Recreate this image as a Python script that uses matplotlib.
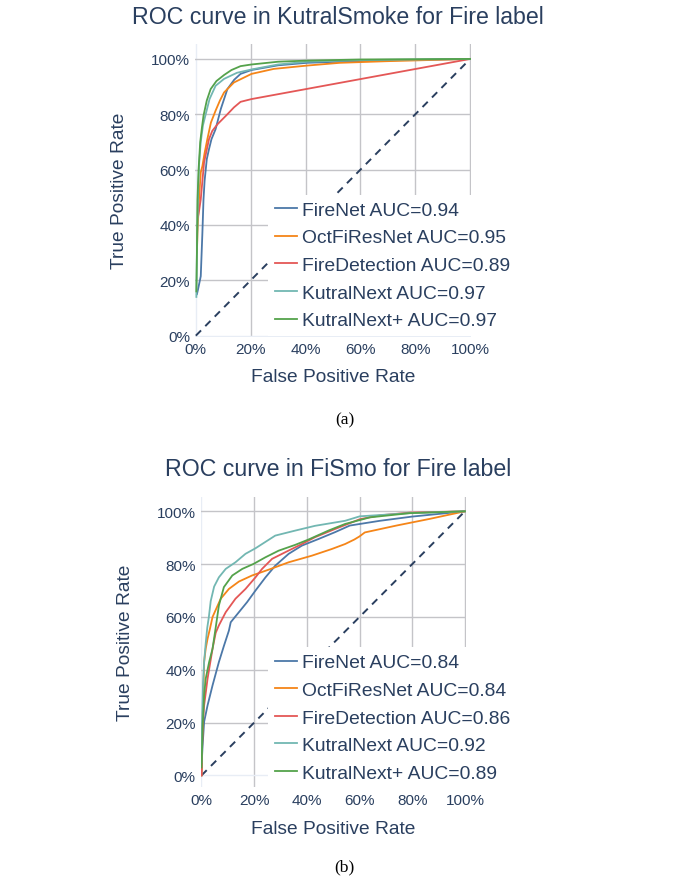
import matplotlib
matplotlib.use("Agg")
import matplotlib.pyplot as plt
from matplotlib.lines import Line2D

plt.rcParams['font.family'] = ['Liberation Sans', 'DejaVu Sans']

# ---- data: KutralSmoke (a) ----
ks_firenet_fpr = [0.004, 0.008, 0.018, 0.024, 0.028, 0.032, 0.040, 0.048, 0.057, 0.072, 0.091, 0.115, 0.140, 0.163, 0.203, 0.300, 0.405, 0.525, 0.700, 1.0]
ks_firenet_tpr = [0.15, 0.167, 0.215, 0.373, 0.493, 0.56, 0.638, 0.674, 0.71, 0.746, 0.819, 0.891, 0.925, 0.946, 0.96, 0.977, 0.986, 0.99, 0.995, 1.0]

ks_octfi_fpr = [0.004, 0.006, 0.012, 0.018, 0.024, 0.032, 0.042, 0.055, 0.072, 0.088, 0.103, 0.139, 0.203, 0.284, 0.405, 0.525, 0.700, 0.850, 1.0]
ks_octfi_tpr = [0.30, 0.372, 0.50, 0.59, 0.613, 0.66, 0.71, 0.77, 0.813, 0.85, 0.879, 0.915, 0.946, 0.964, 0.976, 0.986, 0.992, 0.996, 1.0]

ks_firedet_fpr = [0.008, 0.012, 0.018, 0.030, 0.048, 0.060, 0.079, 0.095, 0.115, 0.139, 0.163, 0.203, 1.0]
ks_firedet_tpr = [0.43, 0.452, 0.493, 0.626, 0.71, 0.74, 0.764, 0.78, 0.80, 0.825, 0.845, 0.855, 1.0]

ks_kutral_fpr = [0.002, 0.004, 0.008, 0.012, 0.018, 0.026, 0.036, 0.050, 0.072, 0.103, 0.150, 0.203, 0.300, 0.405, 0.600, 1.0]
ks_kutral_tpr = [0.14, 0.30, 0.50, 0.62, 0.70, 0.76, 0.80, 0.855, 0.903, 0.928, 0.95, 0.962, 0.98, 0.99, 0.996, 1.0]

ks_kutralp_fpr = [0.002, 0.004, 0.006, 0.010, 0.016, 0.022, 0.028, 0.040, 0.054, 0.075, 0.103, 0.130, 0.163, 0.203, 0.300, 0.405, 0.600, 1.0]
ks_kutralp_tpr = [0.16, 0.30, 0.49, 0.60, 0.70, 0.75, 0.795, 0.85, 0.891, 0.92, 0.942, 0.96, 0.974, 0.98, 0.99, 0.994, 0.998, 1.0]

# ---- data: FiSmo (b) ----
fs_firenet_fpr = [0.0, 0.001, 0.004, 0.010, 0.023, 0.042, 0.066, 0.085, 0.104, 0.111, 0.142, 0.173, 0.205, 0.243, 0.280, 0.331, 0.381, 0.444, 0.507, 0.563, 0.677, 0.800, 1.0]
fs_firenet_tpr = [0.0, 0.05, 0.11, 0.203, 0.265, 0.341, 0.429, 0.49, 0.548, 0.58, 0.618, 0.656, 0.70, 0.75, 0.794, 0.839, 0.87, 0.895, 0.921, 0.946, 0.964, 0.98, 1.0]

fs_octfi_fpr = [0.0, 0.002, 0.004, 0.010, 0.016, 0.023, 0.032, 0.042, 0.073, 0.104, 0.142, 0.192, 0.255, 0.331, 0.419, 0.494, 0.545, 0.580, 0.600, 0.620, 0.740, 0.865, 1.0]
fs_octfi_tpr = [0.0, 0.10, 0.20, 0.43, 0.48, 0.517, 0.555, 0.60, 0.669, 0.706, 0.734, 0.757, 0.779, 0.807, 0.832, 0.857, 0.876, 0.893, 0.905, 0.92, 0.946, 0.971, 1.0]

fs_firedet_fpr = [0.0, 0.001, 0.004, 0.010, 0.023, 0.042, 0.054, 0.066, 0.092, 0.129, 0.167, 0.205, 0.230, 0.268, 0.318, 0.381, 0.431, 0.507, 0.545, 0.601, 0.680, 0.790, 1.0]
fs_firedet_tpr = [0.0, 0.04, 0.177, 0.265, 0.366, 0.48, 0.54, 0.568, 0.618, 0.669, 0.706, 0.75, 0.782, 0.82, 0.845, 0.876, 0.902, 0.933, 0.948, 0.97, 0.985, 0.995, 1.0]

fs_kutral_fpr = [0.0, 0.002, 0.006, 0.010, 0.016, 0.022, 0.028, 0.035, 0.048, 0.066, 0.092, 0.129, 0.167, 0.205, 0.280, 0.356, 0.431, 0.545, 0.601, 0.790, 1.0]
fs_kutral_tpr = [0.05, 0.20, 0.35, 0.43, 0.50, 0.56, 0.60, 0.66, 0.715, 0.75, 0.782, 0.807, 0.839, 0.86, 0.908, 0.927, 0.945, 0.964, 0.981, 0.993, 1.0]

fs_kutralp_fpr = [0.0, 0.001, 0.004, 0.010, 0.016, 0.029, 0.042, 0.054, 0.066, 0.085, 0.117, 0.155, 0.198, 0.243, 0.293, 0.356, 0.406, 0.482, 0.545, 0.639, 0.790, 1.0]
fs_kutralp_tpr = [0.03, 0.052, 0.177, 0.303, 0.366, 0.429, 0.48, 0.56, 0.643, 0.713, 0.757, 0.782, 0.801, 0.826, 0.851, 0.873, 0.893, 0.927, 0.952, 0.977, 0.993, 1.0]

models = ["FireNet", "OctFiResNet", "FireDetection", "KutralNext", "KutralNext+"]
ks_auc = [0.94, 0.95, 0.89, 0.97, 0.97]
fs_auc = [0.84, 0.84, 0.86, 0.92, 0.89]
colors = ['#4C78A8', '#F58518', '#E45756', '#72B7B2', '#54A24B']

tick_vals = [0, 0.2, 0.4, 0.6, 0.8, 1.0]
tick_labels = ["0%", "20%", "40%", "60%", "80%", "100%"]

W, H = 694, 879
txt = '#2a3f5f'


def fx(x):
    return x / W


def fy(y):
    return 1 - y / H


fig = plt.figure(figsize=(W / 100, H / 100), dpi=100)


def roc_panel(rect, curves, aucs, ylim, title, title_y, xlab_y, ylab_x, leg_xy):
    l, t, r, b = rect
    ax = fig.add_axes([fx(l), fy(b), fx(r) - fx(l), fy(t) - fy(b)])
    for s in ax.spines.values():
        s.set_visible(False)
    ax.set_xlim(-0.003, 1.003)
    ax.set_ylim(*ylim)
    ax.set_xticks(tick_vals)
    ax.set_xticklabels(tick_labels)
    ax.set_yticks(tick_vals)
    ax.set_yticklabels(tick_labels)
    ax.tick_params(length=0, labelsize=11, labelcolor=txt)
    ax.tick_params(axis='x', pad=4.2)
    ax.tick_params(axis='y', pad=3.6)
    ax.set_axisbelow(True)
    ax.grid(True, color='#c4c4c8', lw=1.0)
    ax.xaxis.get_gridlines()[0].set_color('#e8edf5')
    ax.yaxis.get_gridlines()[0].set_color('#e8edf5')

    # chance line
    ax.plot([0, 1], [0, 1], color=txt, lw=1.4, dashes=(3.8, 3.1), zorder=2)

    handles = []
    for (fpr, tpr), auc, c, name in zip(curves, aucs, colors, models):
        ax.plot(fpr, tpr, color=c, lw=1.3, zorder=3)
        handles.append(Line2D([], [], color=c, lw=1.3, label=f"{name} AUC={auc:.2f}"))

    leg = ax.legend(handles=handles, loc='upper left',
                    bbox_to_anchor=(fx(leg_xy[0]), fy(leg_xy[1])),
                    bbox_transform=fig.transFigure, borderaxespad=0,
                    fontsize=13.9, frameon=True, fancybox=False,
                    facecolor='white', edgecolor='none', framealpha=1,
                    borderpad=0.35, labelspacing=0.525, handlelength=1.14,
                    handletextpad=0.27)
    for t_ in leg.get_texts():
        t_.set_color(txt)

    fig.text(fx((l + r) / 2 + 4.5), fy(title_y), title,
             ha='center', va='center', fontsize=16.7, color=txt)
    fig.text(fx((l + r) / 2), fy(xlab_y), "False Positive Rate", ha='center',
             va='center', fontsize=13.8, color=txt)
    fig.text(fx(ylab_x), fy((t + b) / 2), "True Positive Rate", ha='center',
             va='center', rotation=90, fontsize=13.8, color=txt)
    return ax


ks_curves = [(ks_firenet_fpr, ks_firenet_tpr), (ks_octfi_fpr, ks_octfi_tpr),
             (ks_firedet_fpr, ks_firedet_tpr), (ks_kutral_fpr, ks_kutral_tpr),
             (ks_kutralp_fpr, ks_kutralp_tpr)]
fs_curves = [(fs_firenet_fpr, fs_firenet_tpr), (fs_octfi_fpr, fs_octfi_tpr),
             (fs_firedet_fpr, fs_firedet_tpr), (fs_kutral_fpr, fs_kutral_tpr),
             (fs_kutralp_fpr, fs_kutralp_tpr)]

roc_panel((195, 45, 471, 337.5), ks_curves, ks_auc, (-0.003, 1.054),
          "ROC curve in KutralSmoke for Fire label", 18, 378, 120, (268, 195.5))
roc_panel((200.7, 498.3, 465.7, 788.3), fs_curves, fs_auc, (-0.045, 1.053),
          "ROC curve in FiSmo for Fire label", 470, 830, 125.5, (268, 648))

fig.text(fx(344.5), fy(420), "(a)", ha='center', va='center',
         fontsize=12.6, family='Liberation Serif', color='black')
fig.text(fx(344.5), fy(867), "(b)", ha='center', va='center',
         fontsize=12.6, family='Liberation Serif', color='black')

fig.savefig("out.png", dpi=100, facecolor='white')
